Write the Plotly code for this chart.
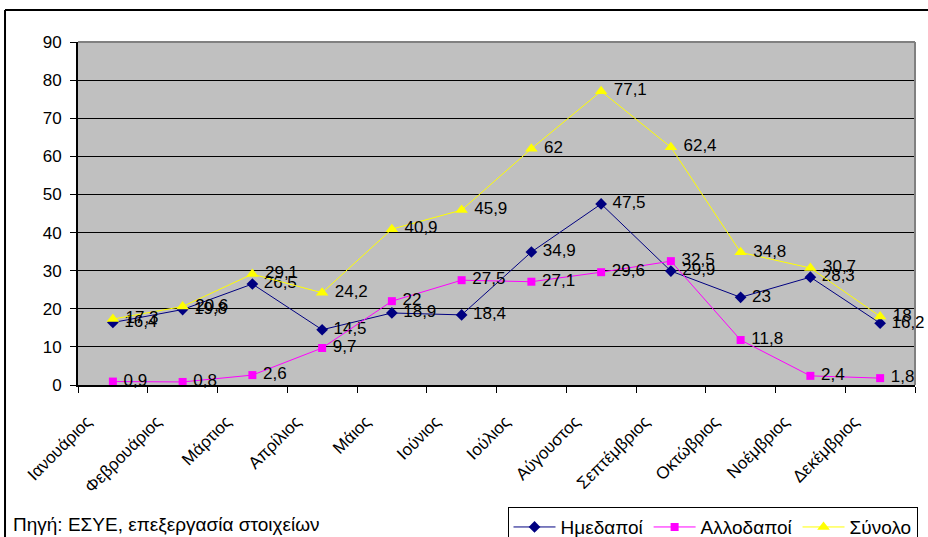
import plotly.graph_objects as go

months = ["Ιανουάριος", "Φεβρουάριος", "Μάρτιος", "Απρίλιος", "Μάιος", "Ιούνιος",
          "Ιούλιος", "Αύγουστος", "Σεπτέμβριος", "Οκτώβριος", "Νοέμβριος", "Δεκέμβριος"]
domestic = [16.4, 19.8, 26.5, 14.5, 18.9, 18.4, 34.9, 47.5, 29.9, 23, 28.3, 16.2]
foreign = [0.9, 0.8, 2.6, 9.7, 22, 27.5, 27.1, 29.6, 32.5, 11.8, 2.4, 1.8]
total = [17.3, 20.6, 29.1, 24.2, 40.9, 45.9, 62, 77.1, 62.4, 34.8, 30.7, 18]
y_ticks = [0, 10, 20, 30, 40, 50, 60, 70, 80, 90]

FONT = "Liberation Sans, Arial, sans-serif"


def fmt(v):
    s = f"{v:g}"
    return " " + s.replace(".", ",")


series = [
    ("Ημεδαποί", domestic, "#000080", "diamond", 9),
    ("Αλλοδαποί", foreign, "#FF00FF", "square", 8),
    ("Σύνολο", total, "#FFFF00", "triangle-up", 11),
]

fig = go.Figure()
for name, vals, color, symbol, size in series:
    fig.add_trace(go.Scatter(
        x=months, y=vals, name=name,
        mode="lines+markers+text",
        line=dict(color=color, width=1),
        marker=dict(color=color, symbol=symbol, size=size),
        text=[fmt(v) for v in vals],
        textposition="middle right",
        textfont=dict(family=FONT, size=17, color="black"),
        cliponaxis=False,
    ))

fig.update_layout(
    width=928, height=537,
    margin=dict(l=78, r=13, t=42, b=152, autoexpand=False),
    paper_bgcolor="white",
    plot_bgcolor="#C0C0C0",
    font=dict(family=FONT, color="black"),
    showlegend=True,
    legend=dict(
        orientation="h",
        x=1.003, xanchor="right",
        y=-0.356, yanchor="top",
        bordercolor="black", borderwidth=1,
        bgcolor="white",
        font=dict(family=FONT, size=19),
        itemwidth=42,
        tracegroupgap=0,
    ),
    xaxis=dict(
        type="category",
        range=[-0.5, len(months) - 0.5],
        tickson="boundaries",
        ticks="outside", ticklen=6, tickcolor="black",
        tickangle=-45,
        tickfont=dict(family=FONT, size=17),
        ticklabelshift=-26,
        ticklabelstandoff=18,
        showline=True, linecolor="black", linewidth=2,
        showgrid=False,
        automargin=False,
    ),
    yaxis=dict(
        range=[0, 90],
        tickvals=y_ticks,
        ticks="outside", ticklen=6, tickcolor="black",
        tickfont=dict(family=FONT, size=17),
        ticklabelstandoff=5,
        showline=True, linecolor="black", linewidth=2,
        showgrid=True, gridcolor="black", gridwidth=1,
        zeroline=False,
        automargin=False,
    ),
    shapes=[
        # grey frame on top and right of plotting area
        dict(type="line", xref="paper", yref="paper", x0=0, x1=1, y0=1, y1=1,
             line=dict(color="#808080", width=2)),
        dict(type="line", xref="paper", yref="paper", x0=1, x1=1, y0=0, y1=1,
             line=dict(color="#808080", width=2)),
        # outer chart border
        dict(type="line", xref="paper", yref="paper", x0=-0.0872, x1=1.2, y0=1.0933, y1=1.0933,
             line=dict(color="black", width=2)),
        dict(type="line", xref="paper", yref="paper", x0=-0.0872, x1=-0.0872, y0=1.0933, y1=-0.6,
             line=dict(color="black", width=2)),
    ],
    annotations=[
        dict(text="Πηγή: ΕΣΥΕ, επεξεργασία στοιχείων",
             xref="paper", yref="paper", x=-0.080, y=-0.37,
             xanchor="left", yanchor="top", showarrow=False,
             font=dict(family=FONT, size=19, color="black")),
    ],
)

fig.write_html("out.html")
